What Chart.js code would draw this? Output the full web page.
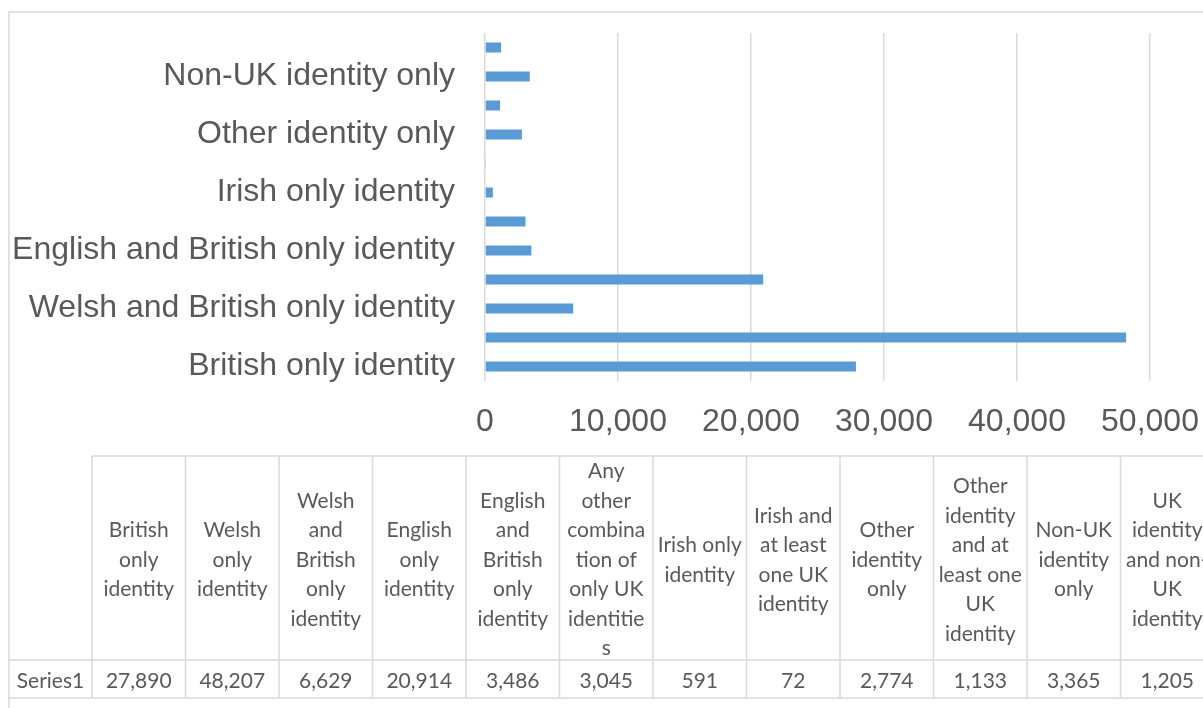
<!DOCTYPE html>
<html>
<head>
<meta charset="utf-8">
<script src="https://cdn.jsdelivr.net/npm/chart.js@4"></script>
<style>
  html, body { margin: 0; padding: 0; background: #fff; }
  #wrap { position: relative; width: 1203px; height: 708px; overflow: hidden; }
</style>
</head>
<body>
<div id="wrap"><canvas id="chart" width="1203" height="708"></canvas></div>
<script>
const categories = [
    'British only identity',
    'Welsh only identity',
    'Welsh and British only identity',
    'English only identity',
    'English and British only identity',
    'Any other combination of only UK identities',
    'Irish only identity',
    'Irish and at least one UK identity',
    'Other identity only',
    'Other identity and at least one UK identity',
    'Non-UK identity only',
    'UK identity and non-UK identity'
];
const values = [27890, 48207, 6629, 20914, 3486, 3045, 591, 72, 2774, 1133, 3365, 1205];
const xTicks = [0, 10000, 20000, 30000, 40000, 50000];
const seriesName = 'Series1';

const chartFont = "'Liberation Sans', Arial, sans-serif";
const tableFont = "Lato, 'Noto Sans', sans-serif";
const textColor = '#595959';
const lineColor = '#d9d9d9';

// Data table geometry (below the plot)
const TABLE = {
    left: 9,
    colStart: 92,
    colWidth: 93.5,
    top: 456,
    headBottom: 660,
    bottom: 698,
    lineH: 29.5,
    fontSize: 21,
    wrapWidth: 84.6,
    textShift: 2
};

// Greedy wrap like Excel: break after hyphens, split words that don't fit
function wrapText(ctx, text, maxW) {
    const tokens = [];
    text.split(' ').forEach((word, i) => {
        word.split(/(?<=-)/).forEach((part, j) => {
            tokens.push({part, sep: (j === 0 && i > 0) ? ' ' : ''});
        });
    });
    const lines = [];
    let line = '';
    for (const tok of tokens) {
        const test = line ? line + tok.sep + tok.part : tok.part;
        if (ctx.measureText(test).width <= maxW) {
            line = test;
            continue;
        }
        if (line) lines.push(line);
        let w = tok.part;
        while (ctx.measureText(w).width > maxW) {
            let i = w.length - 1;
            while (i > 1 && ctx.measureText(w.slice(0, i)).width > maxW) i--;
            lines.push(w.slice(0, i));
            w = w.slice(i);
        }
        line = w;
    }
    if (line) lines.push(line);
    return lines;
}

const tablePlugin = {
    id: 'dataTable',
    afterDraw(chart) {
        const ctx = chart.ctx;
        const T = TABLE;
        const n = categories.length;
        const right = T.colStart + n * T.colWidth;
        ctx.save();

        // chart frame
        ctx.strokeStyle = lineColor;
        ctx.lineWidth = 1.5;
        ctx.strokeRect(9, 12, 1400, 900);

        // table grid
        ctx.beginPath();
        ctx.moveTo(T.colStart, T.top); ctx.lineTo(right, T.top);
        ctx.moveTo(T.left, T.headBottom); ctx.lineTo(right, T.headBottom);
        ctx.moveTo(T.left, T.bottom); ctx.lineTo(right, T.bottom);
        for (let i = 0; i <= n; i++) {
            const x = T.colStart + i * T.colWidth;
            ctx.moveTo(x, T.top);
            ctx.lineTo(x, T.bottom);
        }
        ctx.stroke();

        // texts
        ctx.fillStyle = textColor;
        ctx.font = `${T.fontSize}px ${tableFont}`;
        ctx.textAlign = 'center';
        ctx.textBaseline = 'middle';
        const headMid = (T.top + T.headBottom) / 2 + T.textShift;
        const rowMid = (T.headBottom + T.bottom) / 2 + T.textShift;
        categories.forEach((cat, i) => {
            const cx = T.colStart + (i + 0.5) * T.colWidth;
            const lines = wrapText(ctx, cat, T.wrapWidth);
            lines.forEach((t, k) => {
                ctx.fillText(t, cx, headMid + (k - (lines.length - 1) / 2) * T.lineH);
            });
            ctx.fillText(values[i].toLocaleString('en-US'), cx, rowMid);
        });
        ctx.fillText(seriesName, (T.left + T.colStart) / 2, rowMid);
        ctx.restore();
    }
};

new Chart(document.getElementById('chart'), {
    type: 'bar',
    data: {
        labels: categories,
        datasets: [{
            label: seriesName,
            data: values,
            backgroundColor: '#5b9bd5',
            categoryPercentage: 1,
            barPercentage: 0.345
        }]
    },
    options: {
        indexAxis: 'y',
        responsive: false,
        animation: false,
        layout: {
            padding: {top: 33, bottom: 252, right: 53, left: 0}
        },
        plugins: {
            legend: {display: false},
            tooltip: {enabled: false}
        },
        scales: {
            x: {
                min: 0,
                max: 50000,
                afterBuildTicks: (scale) => {
                    scale.ticks = xTicks.map((v) => ({value: v}));
                },
                afterFit: (scale) => {
                    scale.height = 75;
                    scale.paddingLeft = 0;
                    scale.paddingRight = 0;
                },
                ticks: {
                    font: {family: chartFont, size: 32},
                    color: textColor,
                    padding: 22,
                    maxRotation: 0,
                    callback: (v) => v.toLocaleString('en-US')
                },
                grid: {color: lineColor, lineWidth: 1.5, drawTicks: false},
                border: {display: false}
            },
            y: {
                reverse: true,
                afterFit: (scale) => {
                    scale.width = 485;
                    scale.paddingTop = 0;
                    scale.paddingBottom = 0;
                },
                ticks: {
                    autoSkip: false,
                    padding: 30,
                    font: {family: chartFont, size: 32},
                    color: textColor,
                    callback: function (v, i) {
                        return i % 2 === 0 ? this.getLabelForValue(v) : '';
                    }
                },
                grid: {display: false, drawTicks: false},
                border: {display: false}
            }
        }
    },
    plugins: [tablePlugin]
});
</script>
</body>
</html>
